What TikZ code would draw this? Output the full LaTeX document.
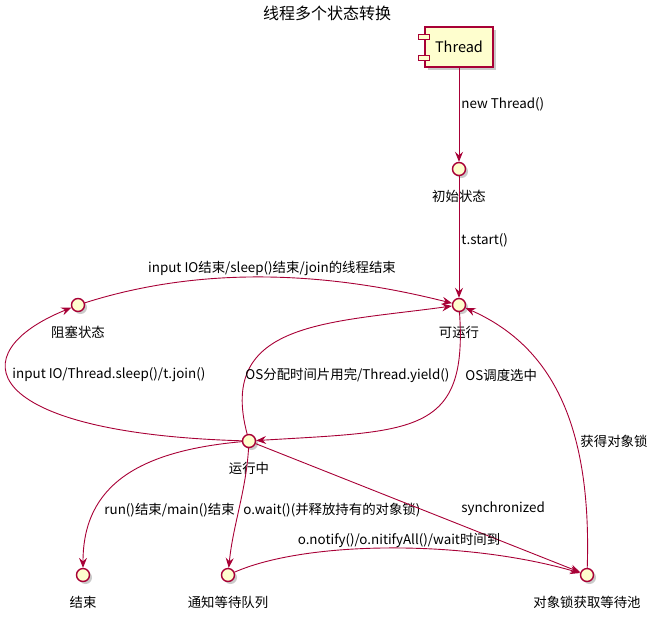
\documentclass[tikz,border=0pt]{standalone}
\usepackage{fontspec}
\setmainfont{Noto Sans CJK SC}
\usepackage{tikz}
\usetikzlibrary{arrows.meta,shadows}
\definecolor{UmlRed}{HTML}{A80036}
\definecolor{UmlFill}{HTML}{FEFECE}
\tikzset{
  state/.style={circle, draw=UmlRed, fill=UmlFill, line width=1.4pt,
                minimum size=13pt, inner sep=0pt, label distance=8pt,
                drop shadow={shadow xshift=2.5pt, shadow yshift=-2.5pt, opacity=0.35, fill=black!60}},
  every label/.style={font=\fontsize{13.4}{16}\selectfont, yshift=-10pt},
  edge/.style={draw=UmlRed, line width=0.9pt, -{Stealth[length=10pt,width=8pt,inset=3.5pt]}},
  lbl/.style={font=\fontsize{13.4}{16}\selectfont, inner sep=1pt, anchor=west}
}

\begin{document}
\begin{tikzpicture}[x=1pt,y=-1pt]
  \useasboundingbox (0,0) rectangle (655,619);
  \node[font=\fontsize{16}{18}\selectfont] (title) at (327,13) {线程多个状态转换};

  % component and states
  \node[draw=UmlRed, fill=UmlFill, line width=1.2pt, minimum width=68pt, minimum height=40pt,
        font=\fontsize{14.5}{16}\selectfont,
        drop shadow={shadow xshift=3pt, shadow yshift=-3pt, opacity=0.35, fill=black!60}]
        (thread) at (459,47) {Thread};
  \draw[draw=UmlRed, fill=UmlFill, line width=1pt]
        ([xshift=-6pt,yshift=8pt]thread.west) rectangle ++(11,-5)
        ([xshift=-6pt,yshift=-8pt]thread.west) rectangle ++(11,5);

  \node[state, label=below:初始状态] (init) at (459,169) {};
  \node[state, label=below:可运行] (runnable) at (459,305) {};
  \node[state, label=below:阻塞状态] (blocked) at (78,305) {};
  \node[state, label=below:运行中] (running) at (249,441) {};
  \node[state, label=below:结束] (dead) at (83,575) {};
  \node[state, label=below:通知等待队列] (waitq) at (228,575) {};
  \node[state, label=below:对象锁获取等待池] (lockpool) at (587,575) {};

  % transitions
  \draw[edge] (thread) -- (init) node[lbl] at (460,104) {new Thread()};
  \draw[edge] (init) -- (runnable) node[lbl] at (460,240) {t.start()};
  \draw[edge] (blocked) .. controls +(110,-35) and +(-150,-38) .. (runnable)
        node[lbl, anchor=center] at (272,268) {input IO结束/sleep()结束/join的线程结束};
  \draw[edge] (running) .. controls +(-270,-8) and +(-119,48) .. (blocked)
        node[lbl] at (11,375) {input IO/Thread.sleep()/t.join()};
  \draw[edge] (running) .. controls +(-32,-120) and +(-130,18) .. (runnable)
        node[lbl] at (244,375) {OS分配时间片用完/Thread.yield()};
  \draw[edge] (runnable) .. controls +(9,130) and +(165,-10) .. (running)
        node[lbl] at (464,375) {OS调度选中};
  \draw[edge] (lockpool) .. controls +(5,-155) and +(90,40) .. (runnable)
        node[lbl] at (579,441) {获得对象锁};
  \draw[edge] (running) .. controls +(-110,10) and +(0,-90) .. (dead)
        node[lbl] at (103,510) {run()结束/main()结束};
  \draw[edge] (running) .. controls +(-3,50) and +(5,-50) .. (waitq)
        node[lbl] at (242,510) {o.wait()(并释放持有的对象锁)};
  \draw[edge] (running) -- (lockpool) node[lbl] at (460,509) {synchronized};
  \draw[edge] (waitq) .. controls +(80,-35) and +(-120,-35) .. (lockpool)
        node[lbl, anchor=center] at (399,540) {o.notify()/o.nitifyAll()/wait时间到};
\end{tikzpicture}
\end{document}
